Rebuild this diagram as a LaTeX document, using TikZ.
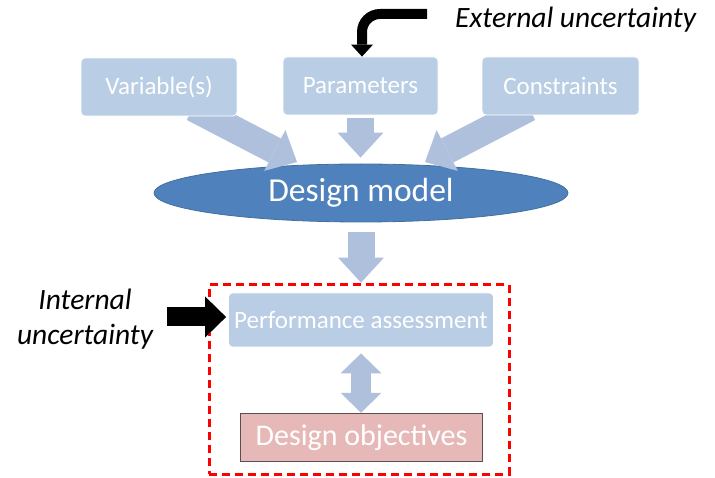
\documentclass[tikz,border=0pt]{standalone}
\usepackage{fontspec}
\setmainfont{Carlito}
\usetikzlibrary{arrows.meta,shapes.geometric}

\definecolor{boxblue}{HTML}{B9CDE5}
\definecolor{flowblue}{HTML}{AFC0DD}
\definecolor{modelblue}{HTML}{4F81BD}
\definecolor{modeledge}{HTML}{41719C}
\definecolor{objpink}{HTML}{E6B9B8}
\definecolor{objedge}{HTML}{5A4F4F}

\pgfdeclarelayer{base}
\pgfdeclarelayer{flow}
\pgfsetlayers{base,flow,main}

\tikzset{
  sz/.style={font=\fontsize{#1}{#1}\selectfont},
  inbox/.style={draw=white, line width=0.8pt, fill=boxblue, rounded corners=4pt,
    text=white, inner sep=0pt, sz=25},
  blockflow/.style={color=flowblue, line width=27pt,
    -{Triangle[width=46pt,length=25pt,line width=0pt]}},
  blackflow/.style={color=black, line width=#1},
  note/.style={inner sep=0pt, font=\fontsize{29.5}{35}\selectfont\itshape}
}

\begin{document}
\begin{tikzpicture}[x=1pt, y=-1pt]
\useasboundingbox (0,0) rectangle (715,478);

% input boxes
\node (var) [inbox, minimum width=156pt, minimum height=58pt] at (159,87) {Variable(s)};
\node (par) [inbox, minimum width=155pt, minimum height=58pt] at (360.5,86) {Parameters};
\node (con) [inbox, minimum width=157pt, minimum height=58pt] at (560.5,86) {Constraints};

% model, kept below the flow arrows
\begin{pgfonlayer}{base}
\node (model) [ellipse, fill=modelblue, draw=modeledge, line width=0.8pt, inner sep=0pt,
  minimum width=414pt, minimum height=58pt, text=white, sz=33.5] at (361,193) {Design model};
\end{pgfonlayer}

% assessment block
\node (perf) [inbox, minimum width=265pt, minimum height=54pt] at (361,320) {Performance assessment};
\node (obj) [draw=objedge, line width=1.5pt, fill=objpink, text=white, inner sep=0pt,
  minimum width=242pt, minimum height=48pt, sz=30] at (361.5,437.5) {Design objectives};
\node (frame) [draw=red, line width=3pt, dash pattern=on 8pt off 5pt,
  minimum width=300pt, minimum height=189pt, inner sep=0pt] at (359,379.5) {};

\begin{pgfonlayer}{flow}
% flows into the model (tails start under the boxes)
\coordinate (vtail) at (193,108);
\coordinate (vtip) at (297,162);
\coordinate (ctail) at (529,108);
\coordinate (ctip) at (425,162);
\draw[blockflow] (vtail) -- (vtip);
\draw[blockflow] (ctail) -- (ctip);
\draw[blockflow, shorten <=3pt, shorten >=6pt] (par.south) -- (par.south |- model.north);

% model to assessment
\draw[blockflow, shorten <=10pt, shorten >=10pt] (model.south) -- (perf.north);

% assessment <-> objectives
\draw[color=flowblue, line width=20pt,
  {Triangle[width=41pt,length=20pt,line width=0pt]}-{Triangle[width=41pt,length=20pt,line width=0pt]},
  shorten <=6pt] (perf.south) -- (perf.south |- obj.north);
\end{pgfonlayer}

% uncertainty sources
\node (ext) [note, anchor=base west] at (455,28) {External uncertainty};
\coordinate (extstart) at (427,14);
\draw[blackflow=10pt, rounded corners=18pt, -{Triangle[width=22pt,length=12pt,line width=0pt]}]
  (extstart) -| ([xshift=1.5pt]par.north);

\node (int) [note, align=center] at (85,319) {Internal\\uncertainty};
\coordinate (intstart) at (167,317);
\draw[blackflow=19pt, -{Triangle[width=41pt,length=21pt,line width=0pt]}, shorten >=2pt]
  (intstart) -- (intstart -| perf.west);
\end{tikzpicture}
\end{document}
